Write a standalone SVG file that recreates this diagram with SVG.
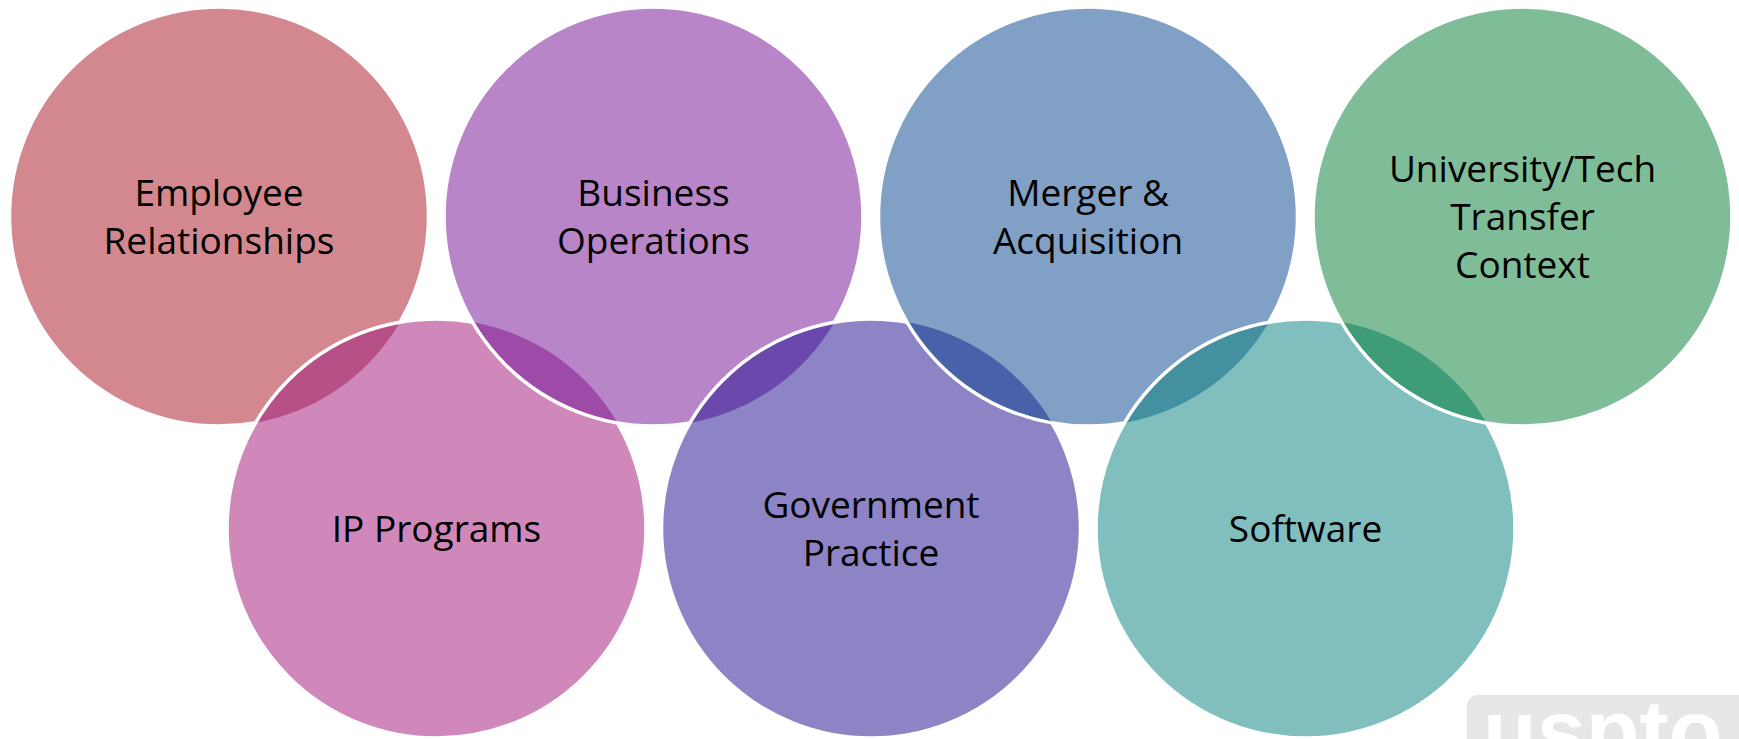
<svg xmlns="http://www.w3.org/2000/svg" width="1739" height="739" viewBox="0 0 1739 739">
  <style>
    .lbl { font-family: "Open Sans", "Noto Sans", "Liberation Sans", sans-serif; font-size: 37px; fill: #000; text-anchor: middle; }
    .ring { fill: none; stroke: #FFFFFF; stroke-width: 3.5; }
    .wm { font-family: "Liberation Sans", Arial, sans-serif; font-weight: bold; font-size: 88px; fill: #FFFFFF; }
  </style>
  <defs>
    <clipPath id="cEmp"><circle cx="219" cy="216.5" r="209.5"/></clipPath>
    <clipPath id="cIP"><circle cx="436.5" cy="528.5" r="209.5"/></clipPath>
    <clipPath id="cBus"><circle cx="653.5" cy="216.5" r="209.5"/></clipPath>
    <clipPath id="cGov"><circle cx="871" cy="528.5" r="209.5"/></clipPath>
    <clipPath id="cMer"><circle cx="1088" cy="216.5" r="209.5"/></clipPath>
    <clipPath id="cSoft"><circle cx="1305.5" cy="528.5" r="209.5"/></clipPath>
  </defs>
  <rect width="1739" height="739" fill="#FFFFFF"/>

  <g id="watermark">
    <rect x="1467" y="695" width="300" height="90" rx="10" fill="#E6E7E8"/>
    <text class="wm" x="1483" y="761">uspto</text>
  </g>

  <g id="node-employee">
    <circle cx="219" cy="216.5" r="209.5" fill="#D3888F"/>
    <circle class="ring" cx="219" cy="216.5" r="209.5"/>
    <text class="lbl" x="219" y="205.5">Employee</text>
    <text class="lbl" x="219" y="253.5">Relationships</text>
  </g>

  <g id="node-ip">
    <circle cx="436.5" cy="528.5" r="209.5" fill="#D087BA"/>
    <circle cx="436.5" cy="528.5" r="209.5" fill="#B85088" clip-path="url(#cEmp)"/>
    <circle class="ring" cx="436.5" cy="528.5" r="209.5"/>
    <text class="lbl" x="436.5" y="541.5">IP Programs</text>
  </g>

  <g id="node-business">
    <circle cx="653.5" cy="216.5" r="209.5" fill="#B886C8"/>
    <circle cx="653.5" cy="216.5" r="209.5" fill="#9D4AA8" clip-path="url(#cIP)"/>
    <circle class="ring" cx="653.5" cy="216.5" r="209.5"/>
    <text class="lbl" x="653.5" y="205.5">Business</text>
    <text class="lbl" x="653.5" y="253.5">Operations</text>
  </g>

  <g id="node-government">
    <circle cx="871" cy="528.5" r="209.5" fill="#8C84C5"/>
    <circle cx="871" cy="528.5" r="209.5" fill="#6A48AC" clip-path="url(#cBus)"/>
    <circle class="ring" cx="871" cy="528.5" r="209.5"/>
    <text class="lbl" x="871" y="518">Government</text>
    <text class="lbl" x="871" y="566">Practice</text>
  </g>

  <g id="node-merger">
    <circle cx="1088" cy="216.5" r="209.5" fill="#80A0C5"/>
    <circle cx="1088" cy="216.5" r="209.5" fill="#4862AA" clip-path="url(#cGov)"/>
    <circle class="ring" cx="1088" cy="216.5" r="209.5"/>
    <text class="lbl" x="1088" y="205.5">Merger &amp;</text>
    <text class="lbl" x="1088" y="253.5">Acquisition</text>
  </g>

  <g id="node-software">
    <circle cx="1305.5" cy="528.5" r="209.5" fill="#80BFBE"/>
    <circle cx="1305.5" cy="528.5" r="209.5" fill="#4290A0" clip-path="url(#cMer)"/>
    <circle class="ring" cx="1305.5" cy="528.5" r="209.5"/>
    <text class="lbl" x="1305.5" y="541.5">Software</text>
  </g>

  <g id="node-university">
    <circle cx="1522.5" cy="216.5" r="209.5" fill="#7EBD98"/>
    <circle cx="1522.5" cy="216.5" r="209.5" fill="#3F9C78" clip-path="url(#cSoft)"/>
    <circle class="ring" cx="1522.5" cy="216.5" r="209.5"/>
    <text class="lbl" x="1522.5" y="182">University/Tech</text>
    <text class="lbl" x="1522.5" y="230">Transfer</text>
    <text class="lbl" x="1522.5" y="278">Context</text>
  </g>

  <g id="connectors"/>
</svg>
